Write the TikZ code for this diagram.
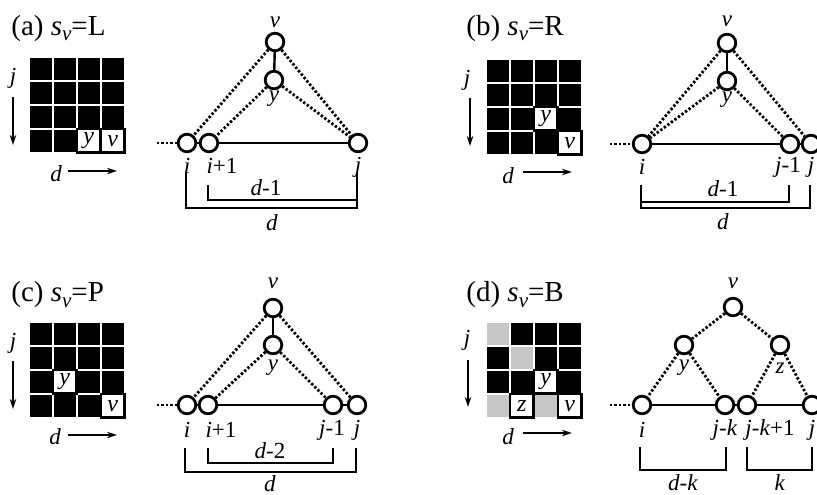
\documentclass[tikz,border=0pt]{standalone}
\usepackage{fontspec}
\setmainfont{Liberation Serif}
\usetikzlibrary{arrows.meta}
\newcommand\vsub[1]{\raisebox{-0.45ex}{\fontsize{10.5}{10.5}\selectfont\textit{#1}}}
\tikzset{
  vtx/.style={circle, draw, line width=1.4pt, fill=white, minimum size=8.8pt, inner sep=0pt},
  dots/.style={line width=1.4pt, dash pattern=on 1.2pt off 1pt},
  edge/.style={line width=1.2pt},
  brk/.style={line width=1.4pt},
  lab/.style={font=\fontsize{11.5}{11.5}\selectfont, inner sep=0pt},
  ilab/.style={font=\fontsize{11.5}{11.5}\selectfont\itshape, inner sep=0pt},
  ttl/.style={font=\fontsize{14.5}{15}\selectfont, inner sep=0pt, anchor=base west},
  clab/.style={font=\fontsize{12}{12}\selectfont\itshape, inner sep=0pt},
  wcell/.style={fill=white, draw=black, line width=1.3pt},
  gcell/.style={fill=black!22},
  jarr/.style={line width=0.9pt, -{Stealth[length=5pt,width=3.2pt]}},
}
\begin{document}
\begin{tikzpicture}[x=0.5pt,y=-0.5pt]
\useasboundingbox (0,0) rectangle (817,494);

% ---------------- titles
\node[ttl] (ta) at (11,35) {(a) \textit{s}\vsub{v}=L};
\node[ttl] (tb) at (466,35) {(b) \textit{s}\vsub{v}=R};
\node[ttl] (tc) at (11,301) {(c) \textit{s}\vsub{v}=P};
\node[ttl] (td) at (466,301) {(d) \textit{s}\vsub{v}=B};

% ---------------- matrix (a)
\begin{scope}[shift={(30,58)}]
  \foreach \c/\r in {1/1,2/1,3/1,4/1,1/2,2/2,3/2,4/2,1/3,2/3,3/3,4/3,1/4,2/4}
    \fill (24*\c-24,24*\r-24) rectangle ++(21.5,21.5);
  \draw[wcell] (47,71) rectangle ++(23.5,23.5);
  \draw[wcell] (71,71) rectangle ++(23.5,23.5);
  \node[clab] (amy) at (58.7,82.7) {y};
  \node[clab] (amv) at (82.7,82.7) {v};
  \node[ilab] (amj) at (-17,20) {j};
  \coordinate (amj1) at (-17,39); \coordinate (amj2) at (-17,87);
  \draw[jarr] (amj1) -- (amj2);
  \node[ilab] (amd) at (26,116) {d};
  \coordinate (amd1) at (38,113); \coordinate (amd2) at (87,113);
  \draw[jarr,line width=1.1pt] (amd1) -- (amd2);
\end{scope}

% ---------------- matrix (b)
\begin{scope}[shift={(487,60)}]
  \foreach \c/\r in {1/1,2/1,3/1,4/1,1/2,2/2,3/2,4/2,1/3,2/3,4/3,1/4,2/4,3/4}
    \fill (24*\c-24,24*\r-24) rectangle ++(21.5,21.5);
  \draw[wcell] (47,47) rectangle ++(23.5,23.5);
  \draw[wcell] (71,71) rectangle ++(23.5,23.5);
  \node[clab] (bmy) at (58.7,58.7) {y};
  \node[clab] (bmv) at (82.7,82.7) {v};
  \node[ilab] (bmj) at (-20,20) {j};
  \coordinate (bmj1) at (-17,38); \coordinate (bmj2) at (-17,86);
  \draw[jarr] (bmj1) -- (bmj2);
  \node[ilab] (bmd) at (21,116) {d};
  \coordinate (bmd1) at (36,112); \coordinate (bmd2) at (85,112);
  \draw[jarr,line width=1.1pt] (bmd1) -- (bmd2);
\end{scope}

% ---------------- matrix (c)
\begin{scope}[shift={(30,323)}]
  \foreach \c/\r in {1/1,2/1,3/1,4/1,1/2,2/2,3/2,4/2,1/3,3/3,4/3,1/4,2/4,3/4}
    \fill (24*\c-24,24*\r-24) rectangle ++(21.5,21.5);
  \draw[wcell] (23,47) rectangle ++(23.5,23.5);
  \draw[wcell] (71,71) rectangle ++(23.5,23.5);
  \node[clab] (cmy) at (34.7,58.7) {y};
  \node[clab] (cmv) at (82.7,82.7) {v};
  \node[ilab] (cmj) at (-17,20) {j};
  \coordinate (cmj1) at (-17,38); \coordinate (cmj2) at (-17,86);
  \draw[jarr] (cmj1) -- (cmj2);
  \node[ilab] (cmd) at (25,114) {d};
  \coordinate (cmd1) at (38,112); \coordinate (cmd2) at (87,112);
  \draw[jarr,line width=1.1pt] (cmd1) -- (cmd2);
\end{scope}

% ---------------- matrix (d)
\begin{scope}[shift={(487,323)}]
  \foreach \c/\r in {2/1,3/1,4/1,1/2,3/2,4/2,1/3,2/3,4/3}
    \fill (24*\c-24,24*\r-24) rectangle ++(21.5,21.5);
  \foreach \c/\r in {1/1,2/2,1/4,3/4}
    \fill[gcell] (24*\c-24,24*\r-24) rectangle ++(21.5,21.5);
  \draw[wcell] (47,47) rectangle ++(23.5,23.5);
  \draw[wcell] (23,71) rectangle ++(23.5,23.5);
  \draw[wcell] (71,71) rectangle ++(23.5,23.5);
  \node[clab] (dmy) at (58.7,58.7) {y};
  \node[clab] (dmz) at (34.7,82.7) {z};
  \node[clab] (dmv) at (82.7,82.7) {v};
  \node[ilab] (dmj) at (-20,17) {j};
  \coordinate (dmj1) at (-19,37); \coordinate (dmj2) at (-19,84);
  \draw[jarr] (dmj1) -- (dmj2);
  \node[ilab] (dmd) at (21,114) {d};
  \coordinate (dmd1) at (36,110); \coordinate (dmd2) at (85,110);
  \draw[jarr,line width=1.1pt] (dmd1) -- (dmd2);
\end{scope}

% ---------------- graph (a)
\node[vtx] (av) at (275,42) {};
\node[vtx] (ay) at (274,80) {};
\node[vtx] (ai) at (187,143) {};
\node[vtx] (ai1) at (209,143) {};
\node[vtx] (aj) at (358,143) {};
\coordinate (a0) at (157,143);
\draw[dots] (a0) -- (ai);
\draw[edge] (ai) -- (ai1);
\draw[edge] (ai1) -- (aj);
\draw[edge] (av) -- (ay);
\draw[dots] (av) -- (ai);
\draw[dots] (av) -- (aj);
\draw[dots] (ay) -- (ai1);
\draw[dots] (ay) -- (aj);
\node[lab] (lav) at (275,22) {\textit{v}};
\node[lab] (lay) at (274,99) {\textit{y}};
\node[lab] (lai) at (187,166) {\textit{i}};
\node[lab] (lai1) at (222,166) {\textit{i}+1};
\node[lab] (laj) at (358,167) {\textit{j}};
\draw[brk] (186,173) |- (357,208) -- (357,173);
\draw[brk] (208,185) |- (357,200);
\node[lab] (lad1) at (266,188) {\textit{d}-1};
\node[lab] (lad) at (272,223) {\textit{d}};

% ---------------- graph (b)
\node[vtx] (bv) at (727,43) {};
\node[vtx] (by) at (727,81) {};
\node[vtx] (bi) at (642,144) {};
\node[vtx] (bj1) at (790,144) {};
\node[vtx] (bj) at (811,144) {};
\coordinate (b0) at (610,144);
\draw[dots] (b0) -- (bi);
\draw[edge] (bi) -- (bj1);
\draw[edge] (bj1) -- (bj);
\draw[edge] (bv) -- (by);
\draw[dots] (bv) -- (bi);
\draw[dots] (bv) -- (bj);
\draw[dots] (by) -- (bi);
\draw[dots] (by) -- (bj1);
\node[lab] (lbv) at (727,21) {\textit{v}};
\node[lab] (lby) at (727,100) {\textit{y}};
\node[lab] (lbi) at (642,167) {\textit{i}};
\node[lab] (lbj1) at (788,167) {\textit{j}-1};
\node[lab] (lbj) at (811,167) {\textit{j}};
\draw[brk] (641,185) |- (789,202) -- (789,185);
\draw[brk] (641,185) |- (810,208) -- (810,185);
\node[lab] (lbd1) at (723,189) {\textit{d}-1};
\node[lab] (lbd) at (723,222) {\textit{d}};

% ---------------- graph (c)
\node[vtx] (cv) at (273,308) {};
\node[vtx] (cy) at (273,345) {};
\node[vtx] (ci) at (187,405) {};
\node[vtx] (ci1) at (208,405) {};
\node[vtx] (cj1) at (333,405) {};
\node[vtx] (cj) at (357,405) {};
\coordinate (c0) at (157,405);
\draw[dots] (c0) -- (ci);
\draw[edge] (ci) -- (ci1);
\draw[edge] (ci1) -- (cj1);
\draw[edge] (cj1) -- (cj);
\draw[edge] (cv) -- (cy);
\draw[dots] (cv) -- (ci);
\draw[dots] (cv) -- (cj);
\draw[dots] (cy) -- (ci1);
\draw[dots] (cy) -- (cj1);
\node[lab] (lcv) at (273,283) {\textit{v}};
\node[lab] (lcy) at (273,368) {\textit{y}};
\node[lab] (lci) at (187,430) {\textit{i}};
\node[lab] (lci1) at (221,430) {\textit{i}+1};
\node[lab] (lcj1) at (332,430) {\textit{j}-1};
\node[lab] (lcj) at (357,430) {\textit{j}};
\draw[brk] (185,448) |- (356,472) -- (356,448);
\draw[brk] (208,448) |- (333,463) -- (333,448);
\node[lab] (lcd2) at (270,451) {\textit{d}-2};
\node[lab] (lcd) at (270,484) {\textit{d}};

% ---------------- graph (d)
\node[vtx] (dv) at (733,307) {};
\node[vtx] (dy) at (684,345) {};
\node[vtx] (dz) at (780,345) {};
\node[vtx] (di) at (642,405) {};
\node[vtx] (djk) at (725,405) {};
\node[vtx] (djk1) at (747,405) {};
\node[vtx] (dj) at (812,405) {};
\coordinate (d0) at (610,405);
\draw[dots] (d0) -- (di);
\draw[edge] (di) -- (djk);
\draw[edge] (djk) -- (djk1);
\draw[edge] (djk1) -- (dj);
\draw[dots] (dv) -- (dy);
\draw[dots] (dv) -- (dz);
\draw[dots] (dy) -- (di);
\draw[dots] (dy) -- (djk);
\draw[dots] (dz) -- (djk1);
\draw[dots] (dz) -- (dj);
\node[lab] (ldv) at (733,283) {\textit{v}};
\node[lab] (ldy) at (684,368) {\textit{y}};
\node[lab] (ldz) at (780,368) {\textit{z}};
\node[lab] (ldi) at (642,430) {\textit{i}};
\node[lab] (ldjk) at (725,430) {\textit{j}-\textit{k}};
\node[lab] (ldjk1) at (770,430) {\textit{j}-\textit{k}+1};
\node[lab] (ldj) at (812,430) {\textit{j}};
\draw[brk] (640,447) |- (726,470) -- (726,447);
\draw[brk] (747,447) |- (812,470) -- (812,447);
\node[lab] (ldk) at (683,483) {\textit{d}-\textit{k}};
\node[lab] (ldk2) at (780,483) {\textit{k}};
\end{tikzpicture}
\end{document}
